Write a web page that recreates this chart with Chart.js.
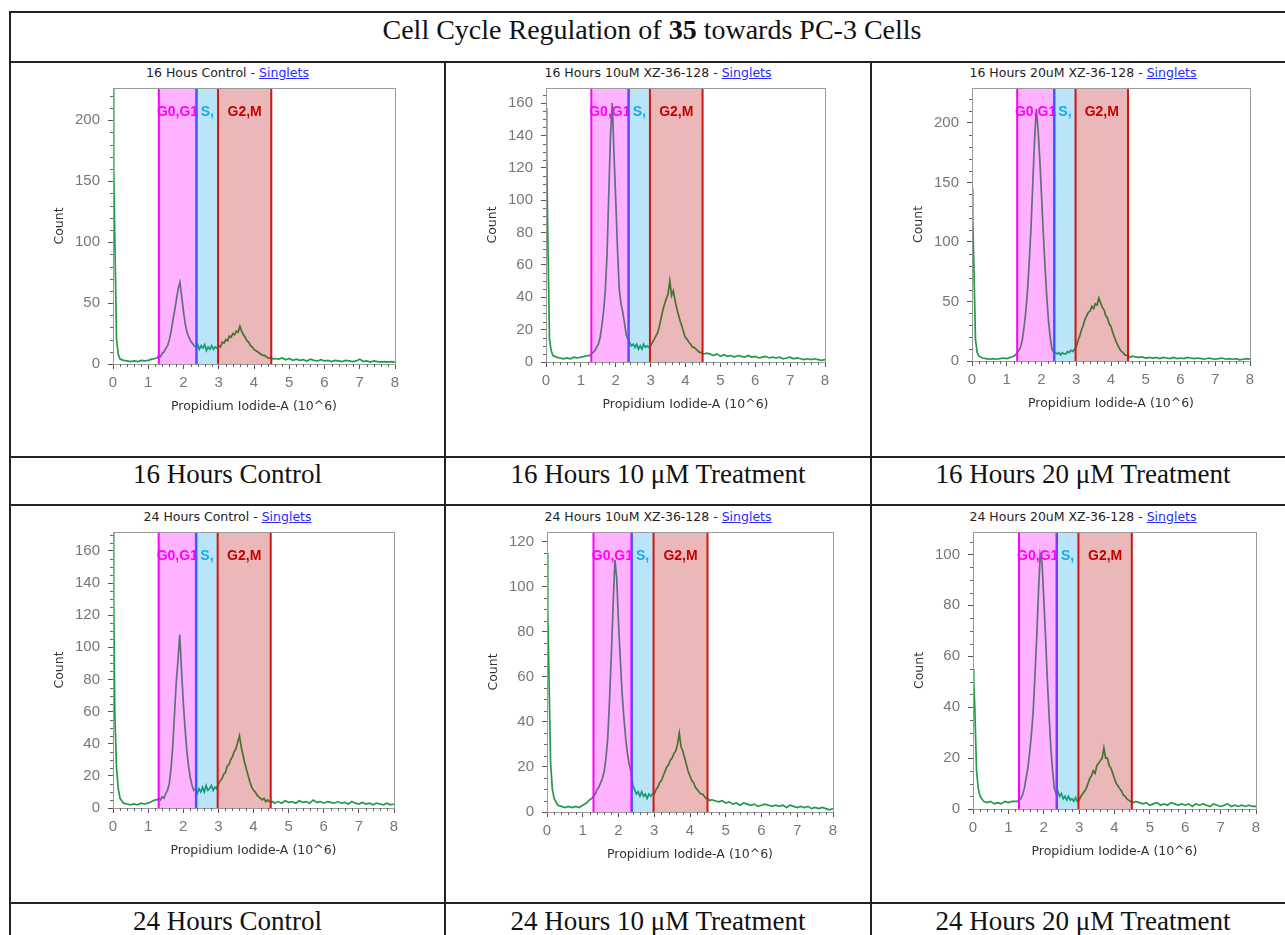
<!DOCTYPE html>
<html><head><meta charset="utf-8">
<script src="https://cdn.jsdelivr.net/npm/chart.js@4.4.1/dist/chart.umd.min.js"></script>
<style>
html,body{margin:0;padding:0;background:#fff;}
body{width:1285px;height:935px;position:relative;overflow:hidden;}
.ln{position:absolute;background:#222;}
.txt{position:absolute;text-align:center;white-space:nowrap;}
.serif{font-family:"Liberation Serif","Times New Roman",serif;color:#111;}
.ptitle{font-family:"DejaVu Sans",sans-serif;font-size:12.5px;color:#222;}
.ptitle a{color:#2a2aff;text-decoration:underline;}
canvas{position:absolute;}
</style></head><body>
<div id="root"></div>
<script>
// ---------- data ----------
const channel = [0,0.02,0.05,0.1,0.15,0.2,0.3,0.4,0.5,0.6,0.7,0.8,0.9,1,1.1,1.2,
1.25,1.3,1.35,1.4,1.45,1.5,1.55,1.6,1.65,1.7,
1.75,1.8,1.85,1.9,1.95,2,2.05,2.1,2.15,2.2,
2.25,2.3,2.35,2.4,2.45,2.5,2.55,2.6,2.65,2.7,
2.75,2.8,2.85,2.9,2.95,3,3.05,3.1,3.15,3.2,
3.25,3.3,3.35,3.4,3.45,3.5,3.55,3.6,3.65,3.7,
3.75,3.8,3.85,3.9,3.95,4,4.05,4.1,4.15,4.2,
4.25,4.3,4.35,4.4,4.45,4.5,4.55,4.6,
4.7,4.8,4.9,5,5.1,5.2,5.3,5.4,5.5,5.6,
5.7,5.8,5.9,6,6.1,6.2,6.3,6.4,6.5,6.6,
6.7,6.8,6.9,7,7.1,7.2,7.3,7.4,7.5,7.6,
7.7,7.8,7.9,8];

const count16Control = [240,160,105,20,8,4,3,2.5,2,2.5,2,3,2.5,3,4,4.5,
5,7,6,9,10,13,15,20,27,36,
44,53,62,67,55,43,33,26,22,19,
17,15,14,16,12,15,13,16,11,14,
12,15,12,14,13,15,14,18,17,20,
19,23,22,25,24,27,26,31,27,24,
22,19,18,15,14,12,11,10,9,8,
7,7,6,5,5,5,4,4.5,
4,5,3.5,4.5,3,4,3,3.5,2.5,4,
3,2.5,3.5,2.5,3,2,3,2.5,2,3,
2.5,2,2.5,4,2,2.5,1.5,2.5,2,1.5,
2,1.5,2,1.5];

const count16Dose10 = [157,130,80,14,7,4,3,2.5,2,2.5,2,3,2.5,3,3.5,4,
4,5,6,7,9,11,15,22,31,44,
66,104,140,160,128,100,70,45,36,31,
24,17,14,12,10,11,9,11,8,10,
8,11,9,10,9,10,12,14,16,18,
22,27,32,36,39,42,50,41,44,38,
33,29,25,22,18,15,14,12,11,9,
9,8,7,6,6,5,5,5.5,
5,4,5,3.5,4.5,3.5,4,3,4,3.5,
3,4,3,3.5,2.5,3,3.5,2.5,3,2.5,
3,2,2.5,3,2,2.5,2,1.5,2,1.5,
2,1.5,1,1.5];

const count16Dose20 = [145,120,85,18,7,4,2.5,2,1.5,2,1.5,2,2.5,2,3,4,
5,7,9,12,18,29,42,60,85,113,
150,185,212,195,170,140,108,80,55,34,
20,10,7,7,6,7,5,7,6,6,
8,7,9,8,10,12,17,21,26,30,
35,38,41,42,46,44,48,47,53,49,
45,43,38,36,31,29,24,20,16,13,
10,8,7,5,5,4,3,4,
3.5,3,3.5,2.5,3,2.5,3,2,3,2.5,
2,3,2,2.5,2,3,2.5,2,2.5,2,
1.5,2.5,2,1.5,2,2.5,1.5,2,1.5,2,
1,1.5,2,1.5];

const count24Control = [180,130,60,25,12,6,3,2.5,2,2.5,2,3,2.5,3,4,5,
5,6,5,7,6,9,11,15,24,38,
58,78,92,108,86,66,50,36,26,19,
14,11,12,9,12,10,13,10,14,11,
12,14,11,13,12,15,17,18,21,22,
26,27,30,32,35,37,41,45,38,33,
28,24,20,16,13,11,10,8,7,6,
5,6,4,5,4,3.5,4,3,
4,3,4.5,3.5,4,3,4.5,3.5,4,3,
5,3.5,4,3,4,3.5,3,4,3,3.5,
2.5,4,3,2.5,3.5,2.5,3,2,3,2.5,
2,3,2,2.5];

const count24Dose10 = [115,90,65,22,10,6,3,2.5,2,2.5,2,2.5,2,3,4,5.5,
6,7,8,10,11,13,15,18,24,33,
50,70,92,112,104,84,68,53,42,33,
26,21,18,12,10,8,9,7,9,7,
8,6,8,7,8,8,10,11,13,14,
16,18,20,21,23,24,26,27,30,35,
29,27,24,21,18,16,14,13,11,10,
9,8,8,7,6,6,5,5.5,
5,4.5,5,4,4.5,3.5,4,3,4,3.5,
3,3.5,2.5,3,3.5,3,2.5,3,2.5,3,
2,3,2.5,2,2.5,2,2.5,1.5,2,1.5,
2,1.5,1,1.5];

const count24Dose20 = [55,50,40,15,8,5,3,2.5,3,2,2.5,2,3,2.5,3,3,
3,3.5,4,5.5,8,12,16,22,29,38,
52,67,85,100,97,83,68,51,37,24,
15,8,6,7,5,6,4,5,3.5,5,
3.5,4,3,4.5,3,3.5,5,6,7,8,
10,12,13,15,14,17,18,19,20,24,
20,20,17,16,14,12,10,9,8,7,
5.5,5,4,3.5,3,3,2.5,3,
2.5,2,2.5,1.5,2,2.5,1.5,2,1.5,2.5,
2,1.5,2,1.5,2,1,2,1.5,2,1.5,
1,2,1.5,1,1.5,2,1,1.5,1,1.5,
1,1.5,1,1];

const panelSeries = [count16Control,count16Dose10,count16Dose20,count24Control,count24Dose10,count24Dose20];
const panelTitles = ['16 Hous Control','16 Hours 10uM XZ-36-128','16 Hours 20uM XZ-36-128',
                     '24 Hours Control','24 Hours 10uM XZ-36-128','24 Hours 20uM XZ-36-128'];
const panelLabels = ['16 Hours Control','16 Hours 10 \u03BCM Treatment','16 Hours 20 \u03BCM Treatment',
                     '24 Hours Control','24 Hours 10 \u03BCM Treatment','24 Hours 20 \u03BCM Treatment'];
const yMaxima = [226.5,169.3,229.4,171.8,124.4,108.8];
const yMajorStep = [50,20,50,20,20,20];
const yMinorStep = [10,5,10,5,5,5];
const xTicks = [0,1,2,3,4,5,6,7,8];
const gateNames = ['G0,G1','S,','G2,M'];
const gateFrom = [1.3,2.37,2.98];
const gateTo = [2.36,2.98,4.49];

// ---------- layout (styles/positions) ----------
const plotBoxes = [[113,88,395,364],[546,88,825,362],[972,88,1250,361],
                   [113,532,394,808],[547,532,833,812],[973,532,1256,809]];
const colCenters = [227.5,658,1083];
const gateFill = ['rgba(255,0,255,0.30)','rgba(0,160,230,0.27)','rgba(180,0,0,0.28)'];
const gateText = ['#ff00ff','#1aa8e8','#c40000'];
const PAD_T=22, PAD_R=14, Y_W=61, X_H=50;

const root = document.getElementById('root');
function addLine(l,t,w,h){const d=document.createElement('div');d.className='ln';
  Object.assign(d.style,{left:l+'px',top:t+'px',width:w+'px',height:h+'px'});root.appendChild(d);}
addLine(9,11,1290,2); addLine(9,11,2,930);
addLine(9,61,1290,2); addLine(9,456,1290,2); addLine(9,504,1290,2); addLine(9,902,1290,2);
addLine(444,62,2,880); addLine(870,62,2,880);

function addText(html,cls,cx,cy,w,h,extra){const d=document.createElement('div');d.className='txt '+cls;
  d.innerHTML=html;Object.assign(d.style,{left:(cx-w/2)+'px',top:(cy-h/2)+'px',width:w+'px',height:h+'px',lineHeight:h+'px'},extra||{});
  root.appendChild(d);return d;}
addText('Cell Cycle Regulation of <b>35</b> towards PC-3 Cells','serif',652,30,1000,40,{fontSize:'28px'});

for(let i=0;i<6;i++){
  const col=i%3,row=Math.floor(i/3);
  addText(panelTitles[i]+' - <a>Singlets</a>','ptitle',colCenters[col],row?516.5:72.5,420,16);
  addText(panelLabels[i],'serif',colCenters[col],row?921:474,420,40,{fontSize:'27px'});
}

function makeDecor(idx){
  return {id:'decor'+idx,
    afterDatasetsDraw(chart){
      const {ctx,chartArea:a,scales:{x,y}}=chart;
      ctx.save();
      for(let g=0;g<3;g++){
        const x0=x.getPixelForValue(gateFrom[g]),x1=x.getPixelForValue(gateTo[g]);
        ctx.fillStyle=gateFill[g];ctx.fillRect(x0,a.top,x1-x0,a.bottom-a.top);
      }
      const edge=(v,c,w)=>{const p=x.getPixelForValue(v);ctx.strokeStyle=c;ctx.lineWidth=w;
        ctx.beginPath();ctx.moveTo(p,a.top);ctx.lineTo(p,a.bottom);ctx.stroke();};
      edge(gateFrom[0],'#ff00ff',2); edge(gateTo[0],'#ff00ff',2);
      edge(gateFrom[1]+0.01,'#2a5cff',1.5);
      edge(gateFrom[2],'#d01515',2); edge(gateTo[2],'#d01515',2);
      ctx.font='bold 14px "Liberation Sans", Arial, sans-serif';
      ctx.textAlign='center';ctx.textBaseline='middle';
      for(let g=0;g<3;g++){
        const c=(x.getPixelForValue(gateFrom[g])+x.getPixelForValue(gateTo[g]))/2;
        ctx.fillStyle=gateText[g];ctx.fillText(gateNames[g],c,a.top+24);
      }
      ctx.restore();
    },
    afterDraw(chart){
      const {ctx,chartArea:a,scales:{x,y}}=chart;
      ctx.save();
      ctx.strokeStyle='#9a9a9a';ctx.lineWidth=1;
      ctx.strokeRect(Math.round(a.left)+0.5,Math.round(a.top)+0.5,Math.round(a.right-a.left),Math.round(a.bottom-a.top));
      ctx.strokeStyle='#666';
      ctx.beginPath();
      for(let k=1;k<40;k++){ if(k%5===0) continue;
        const p=Math.round(x.getPixelForValue(k*0.2))+0.5; ctx.moveTo(p,a.bottom); ctx.lineTo(p,a.bottom+3);}
      const ms=yMinorStep[idx], ms2=yMajorStep[idx];
      for(let v=ms; v<yMaxima[idx]; v+=ms){ if(Math.abs(v/ms2-Math.round(v/ms2))<1e-6) continue;
        const p=Math.round(y.getPixelForValue(v))+0.5; ctx.moveTo(a.left,p); ctx.lineTo(a.left-3,p);}
      ctx.stroke();
      ctx.restore();
    }
  };
}

const tickFont={family:'"Liberation Sans", Arial, sans-serif',size:15};
const titleFont={family:'"DejaVu Sans", sans-serif',size:12.5};
for(let i=0;i<6;i++){
  const vals=panelSeries[i];
  if(vals.length!==channel.length) throw new Error('length mismatch panel '+i+': '+vals.length+' vs '+channel.length);
  const [pl,pt,pr,pb]=plotBoxes[i];
  const W=(pr-pl)+Y_W+PAD_R, H=(pb-pt)+PAD_T+X_H;
  const cv=document.createElement('canvas');
  cv.width=W;cv.height=H;cv.style.left=(pl-Y_W)+'px';cv.style.top=(pt-PAD_T)+'px';
  cv.style.width=W+'px';cv.style.height=H+'px';
  root.appendChild(cv);
  new Chart(cv.getContext('2d'),{
    type:'line',
    data:{datasets:[{data:channel.map((c,k)=>({x:c,y:vals[k]})),borderColor:'#1f9c45',borderWidth:1.7,
      pointRadius:0,tension:0,fill:false}]},
    options:{responsive:false,animation:false,devicePixelRatio:1,
      layout:{padding:{top:PAD_T,right:PAD_R,left:0,bottom:0}},
      plugins:{legend:{display:false},tooltip:{enabled:false}},
      scales:{
        x:{type:'linear',min:0,max:8,
          afterBuildTicks(s){s.ticks=xTicks.map(v=>({value:v}));},
          ticks:{color:'#777',font:tickFont,padding:5,maxRotation:0,autoSkip:false},
          grid:{drawOnChartArea:false,tickLength:5,tickColor:'#555'},
          border:{color:'#555',width:1},
          title:{display:true,text:'Propidium Iodide-A (10^6)',color:'#333',font:titleFont,padding:0},
          afterFit(s){s.height=X_H;}},
        y:{min:0,max:yMaxima[i],
          ticks:{stepSize:yMajorStep[i],includeBounds:false,color:'#777',font:tickFont,padding:8},
          grid:{drawOnChartArea:false,tickLength:5,tickColor:'#555'},
          border:{color:'#555',width:1},
          title:{display:true,text:'Count',color:'#333',font:titleFont,padding:0},
          afterFit(s){s.width=Y_W;}}
      }},
    plugins:[makeDecor(i)]
  });
}
</script>
</body></html>
